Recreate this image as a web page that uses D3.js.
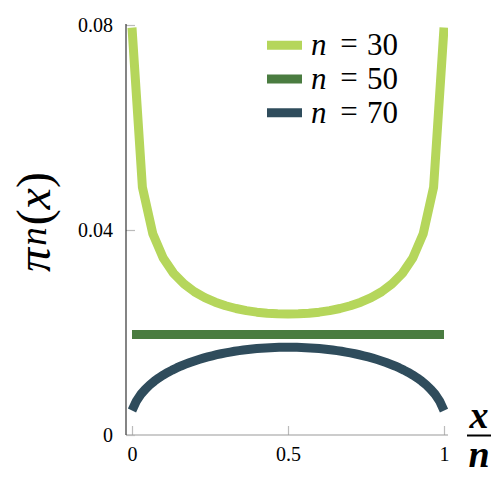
<!DOCTYPE html>
<html><head><meta charset="utf-8">
<script src="https://cdn.jsdelivr.net/npm/d3@7"></script>
<style>body{margin:0;background:#fff}svg{display:block}</style>
</head><body>
<div id="chart"></div>
<script>
const seriesVar = ["n", "n", "n"];
const seriesN = [30, 50, 70];
const values30 = [0.07949, 0.04834, 0.03927, 0.03453, 0.03154, 0.02947, 0.02795, 0.02680, 0.02591, 0.02522, 0.02468, 0.02427, 0.02397, 0.02376, 0.02364, 0.02360, 0.02364, 0.02376, 0.02397, 0.02427, 0.02468, 0.02522, 0.02591, 0.02680, 0.02795, 0.02947, 0.03154, 0.03453, 0.03927, 0.04834, 0.07949];
const values50 = [0.0196, 0.0196, 0.0196, 0.0196, 0.0196, 0.0196, 0.0196, 0.0196, 0.0196, 0.0196, 0.0196, 0.0196, 0.0196, 0.0196, 0.0196, 0.0196, 0.0196, 0.0196, 0.0196, 0.0196, 0.0196, 0.0196, 0.0196, 0.0196, 0.0196, 0.0196, 0.0196, 0.0196, 0.0196, 0.0196, 0.0196, 0.0196, 0.0196, 0.0196, 0.0196, 0.0196, 0.0196, 0.0196, 0.0196, 0.0196, 0.0196, 0.0196, 0.0196, 0.0196, 0.0196, 0.0196, 0.0196, 0.0196, 0.0196, 0.0196, 0.0196];
const values70 = [0.00478, 0.00665, 0.00794, 0.00894, 0.00978, 0.01050, 0.01113, 0.01169, 0.01220, 0.01266, 0.01308, 0.01347, 0.01382, 0.01415, 0.01445, 0.01473, 0.01499, 0.01523, 0.01545, 0.01566, 0.01585, 0.01602, 0.01618, 0.01633, 0.01646, 0.01658, 0.01668, 0.01678, 0.01686, 0.01693, 0.01699, 0.01704, 0.01708, 0.01711, 0.01712, 0.01713,
  0.01712, 0.01711, 0.01708, 0.01704, 0.01699, 0.01693, 0.01686, 0.01678, 0.01668, 0.01658, 0.01646, 0.01633, 0.01618, 0.01602, 0.01585, 0.01566, 0.01545, 0.01523, 0.01499, 0.01473, 0.01445, 0.01415, 0.01382, 0.01347, 0.01308, 0.01266, 0.01220, 0.01169, 0.01113, 0.01050, 0.00978, 0.00894, 0.00794, 0.00665, 0.00478];
const xTicks = [0, 0.5, 1];
const xTickLabels = ["0", "0.5", "1"];
const yTicks = [0, 0.04, 0.08];
const yTickLabels = ["0", "0.04", "0.08"];
const colors = ["#b5d65b", "#4a7c40", "#2f4c5c"];

const W = 500, H = 500;
const FONT = "'Liberation Serif', 'DejaVu Serif', serif";
const svg = d3.select("#chart").append("svg").attr("width", W).attr("height", H);

const x = d3.scaleLinear().domain([0, 1]).range([132, 444]);
const y = d3.scaleLinear().domain([0, 0.08]).range([435, 25]);

svg.append("defs").append("clipPath").attr("id", "clip")
  .append("rect").attr("x", 126).attr("y", 25).attr("width", 322).attr("height", 410);

// axes
const xAxis = d3.axisBottom(x).tickValues(xTicks).tickFormat((d, i) => xTickLabels[i]).tickSize(-9).tickPadding(12);
const gx = svg.append("g").attr("transform", "translate(0,435)").call(xAxis);
gx.select(".domain").remove();
gx.selectAll(".tick line").attr("stroke", "#bbb").attr("stroke-width", 1.2);
gx.selectAll(".tick text").attr("font-family", FONT).attr("font-size", 20).attr("fill", "#000");
svg.append("line").attr("x1", 126).attr("x2", 448).attr("y1", 435).attr("y2", 435).attr("stroke", "#999").attr("stroke-width", 1.2);

const yAxis = d3.axisLeft(y).tickValues(yTicks).tickFormat((d, i) => yTickLabels[i]).tickSize(-9).tickPadding(13);
const gy = svg.append("g").attr("transform", "translate(126,0)").call(yAxis);
gy.select(".domain").remove();
gy.selectAll(".tick line").attr("stroke", "#bbb").attr("stroke-width", 1.2);
gy.selectAll(".tick text").attr("font-family", FONT).attr("font-size", 20).attr("fill", "#000");
svg.append("line").attr("x1", 126).attr("x2", 126).attr("y1", 24).attr("y2", 435).attr("stroke", "#333").attr("stroke-width", 1.2);

// series
const allValues = [values30, values50, values70];
const line = d3.line().x(d => x(d[0])).y(d => y(d[1]));
const plot = svg.append("g").attr("clip-path", "url(#clip)");
allValues.forEach((vals, i) => {
  const n = seriesN[i];
  const pts = vals.map((v, k) => [k / n, v]);
  plot.append("path").attr("d", line(pts)).attr("fill", "none")
    .attr("stroke", colors[i]).attr("stroke-width", 9)
    .attr("stroke-linecap", "butt").attr("stroke-linejoin", "round");
});

// legend
const leg = svg.append("g").attr("font-family", FONT).attr("fill", "#000");
seriesN.forEach((n, i) => {
  const yy = 45.3 + i * 33.7;
  leg.append("line").attr("x1", 267).attr("x2", 302).attr("y1", yy).attr("y2", yy)
    .attr("stroke", colors[i]).attr("stroke-width", 9);
  const base = yy + 10;
  leg.append("text").attr("x", 311).attr("y", base).attr("font-size", 31).attr("font-style", "italic").text(seriesVar[i]);
  leg.append("text").attr("x", 349).attr("y", base - 1).attr("font-size", 31).attr("text-anchor", "middle").text("=");
  leg.append("text").attr("x", 367).attr("y", base).attr("font-size", 31).text(String(n));
});

// y label
const yl = svg.append("text").attr("transform", "translate(50,222) rotate(-90)")
  .attr("text-anchor", "middle").attr("font-family", FONT).attr("font-size", 48).attr("fill", "#000");
yl.append("tspan").attr("font-style", "italic").text("π");
yl.append("tspan").attr("font-style", "italic").attr("font-size", 37).attr("dx", 2).attr("dy", -4).text("n");
yl.append("tspan").attr("dy", 4).attr("dx", 2).text("(");
yl.append("tspan").attr("font-style", "italic").text("x");
yl.append("tspan").text(")");

// x label (fraction)
svg.append("text").attr("x", 479).attr("y", 428).attr("text-anchor", "middle")
  .attr("font-family", FONT).attr("font-size", 38).attr("font-style", "italic").attr("font-weight", "bold").text("x");
svg.append("line").attr("x1", 467).attr("x2", 491).attr("y1", 435.5).attr("y2", 435.5).attr("stroke", "#000").attr("stroke-width", 2);
svg.append("text").attr("x", 479).attr("y", 467).attr("text-anchor", "middle")
  .attr("font-family", FONT).attr("font-size", 38).attr("font-style", "italic").attr("font-weight", "bold").text("n");
</script>
</body></html>
